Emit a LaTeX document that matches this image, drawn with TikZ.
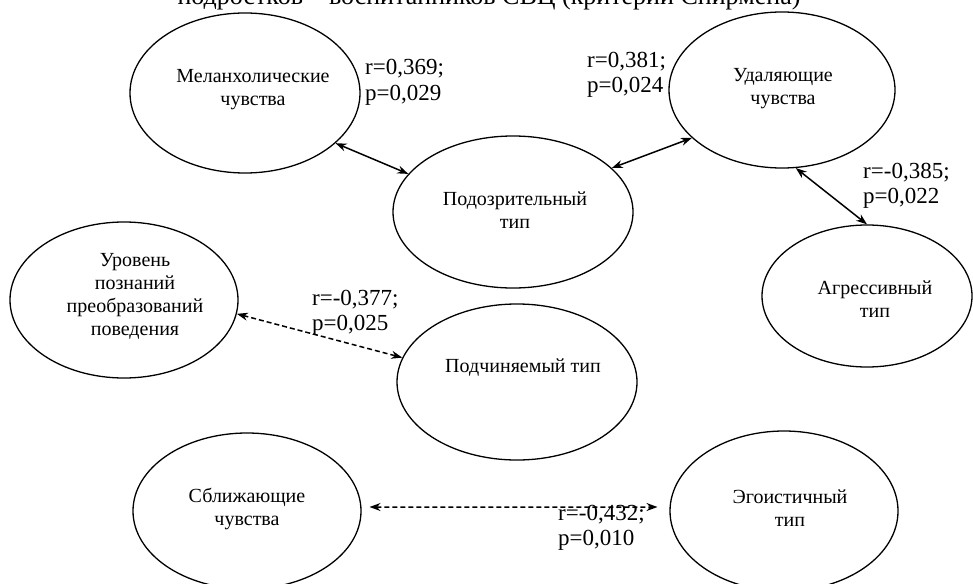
\documentclass[tikz,border=0pt]{standalone}
\usepackage{fontspec}
\setmainfont{Liberation Serif}
\usetikzlibrary{shapes.geometric,arrows.meta}
\tikzset{
  ell/.style={ellipse, draw=black, line width=1.3pt, inner sep=0pt},
  etext/.style={font=\fontsize{20}{23}\selectfont, align=center, inner sep=0pt, text=black},
  stat/.style={font=\fontsize{23}{25}\selectfont, inner sep=0pt, anchor=base west, text=black},
  solidarrow/.style={{Stealth[length=11pt,width=8pt]}-{Stealth[length=11pt,width=8pt]}, line width=1.5pt},
  dasharrow/.style={solidarrow, dash pattern=on 5pt off 3pt},
}
\begin{document}
\begin{tikzpicture}[x=1pt,y=-1pt]
\useasboundingbox (0,0) rectangle (973,583);
\clip (0,0) rectangle (973,583);
\fill[white] (0,0) rectangle (973,583);

\node[font=\fontsize{26}{30}\selectfont, anchor=base, inner sep=0pt] (title) at (489,4.5) {подростков – воспитанников СВЦ (критерий Спирмена)};

\node[ell, minimum width=230pt, minimum height=160pt,
  label={[etext, xshift=8pt, yshift=3pt]center:{Меланхолические\\чувства}}] (mel) at (245,93) {};
\node[ell, minimum width=226pt, minimum height=156pt,
  label={[etext, xshift=1pt, yshift=1pt]center:{Удаляющие\\чувства}}] (uda) at (782,90) {};
\node[ell, minimum width=240pt, minimum height=152pt,
  label={[etext, xshift=2pt, yshift=2pt]center:{Подозрительный\\тип}}] (pod) at (513,212) {};
\node[ell, minimum width=210pt, minimum height=142pt,
  label={[etext, xshift=8pt, yshift=-3pt]center:{Агрессивный\\тип}}] (agr) at (867,296) {};
\node[ell, minimum width=228pt, minimum height=156pt,
  label={[etext, xshift=11pt, yshift=4pt]center:{Уровень\\познаний\\преобразований\\поведения}}] (urv) at (124,300) {};
\node[ell, minimum width=240pt, minimum height=156pt,
  label={[etext, xshift=6pt, yshift=14pt]center:{Подчиняемый тип}}] (pch) at (517,382) {};
\node[ell, minimum width=228pt, minimum height=156pt,
  label={[etext, xshift=0pt, yshift=2pt]center:{Сближающие\\чувства}}] (sbl) at (247,511) {};
\node[ell, minimum width=228pt, minimum height=160pt,
  label={[etext, xshift=6pt, yshift=3pt]center:{Эгоистичный\\тип}}] (ego) at (784,511) {};

\node[stat] (s1) at (365,75) {\vtop{\hbox{r=0,369;}\hbox{p=0,029}}};
\node[stat] (s2) at (587,68) {\vtop{\hbox{r=0,381;}\hbox{p=0,024}}};
\node[stat] (s3) at (863,178) {\vtop{\hbox{r=-0,385;}\hbox{p=0,022}}};
\node[stat] (s4) at (312,305) {\vtop{\hbox{r=-0,377;}\hbox{p=0,025}}};
\node[stat] (s5) at (558,520) {\vtop{\hbox{r=-0,432;}\hbox{p=0,010}}};

\draw[solidarrow] (mel.-29) -- (pod.160);
\draw[solidarrow] (pod.24) -- (uda.208);
\draw[solidarrow] (uda.-80) -- (agr.90);
\draw[dasharrow] (urv.-7) -- (pch.168);
\draw[dasharrow, shorten <=8pt, shorten >=12pt] (sbl.2) -- (ego.178);
\end{tikzpicture}
\end{document}
